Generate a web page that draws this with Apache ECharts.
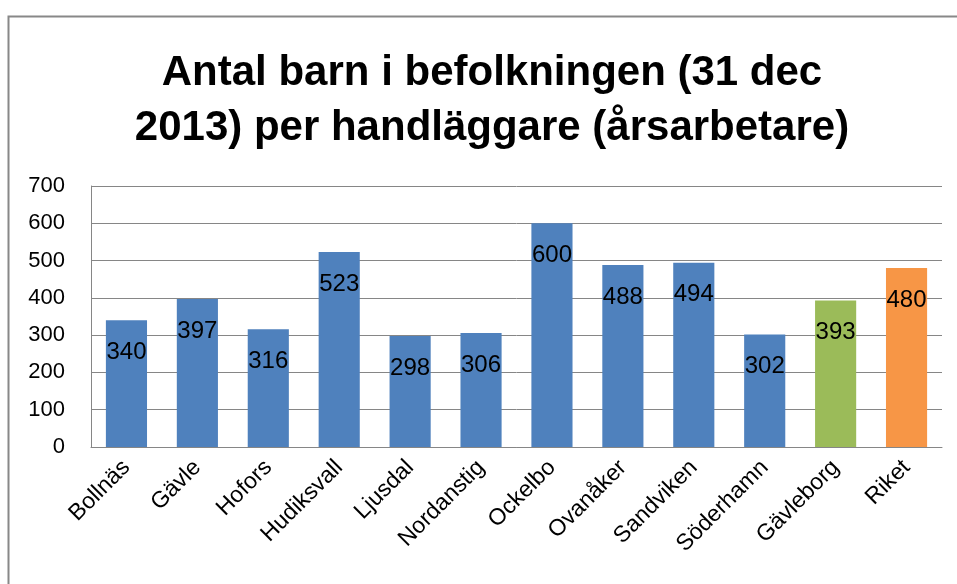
<!DOCTYPE html>
<html>
<head>
<meta charset="utf-8">
<script src="https://cdn.jsdelivr.net/npm/echarts@6/dist/echarts.min.js"></script>
<style>
html,body{margin:0;padding:0;background:#fff;}
#chart{width:957px;height:584px;}
</style>
</head>
<body>
<div id="chart"></div>
<script>
const categories = ['Bollnäs','Gävle','Hofors','Hudiksvall','Ljusdal','Nordanstig','Ockelbo','Ovanåker','Sandviken','Söderhamn','Gävleborg','Riket'];
const values = [340, 397, 316, 523, 298, 306, 600, 488, 494, 302, 393, 480];
const barColors = ['#4F81BD','#4F81BD','#4F81BD','#4F81BD','#4F81BD','#4F81BD','#4F81BD','#4F81BD','#4F81BD','#4F81BD','#9BBB59','#F79646'];
const yTicks = [0, 100, 200, 300, 400, 500, 600, 700];
const titleText = 'Antal barn i befolkningen (31 dec\n2013) per handläggare (årsarbetare)';

const FONT = '"Liberation Sans", Arial, sans-serif';
const chart = echarts.init(document.getElementById('chart'), null, {renderer: 'canvas'});
chart.setOption({
  backgroundColor: '#fff',
  animation: false,
  textStyle: {fontFamily: FONT},
  graphic: [{
    type: 'rect', left: 6, top: 14, silent: true,
    shape: {width: 1000, height: 1000},
    style: {fill: 'none', stroke: '#888', lineWidth: 2}
  }],
  title: {
    text: titleText,
    left: 487, top: 41, textAlign: 'center',
    textStyle: {fontFamily: FONT, fontWeight: 'bold', fontSize: 42, lineHeight: 55, color: '#000'}
  },
  grid: {left: 91, right: 15, top: 186, bottom: 137, containLabel: false},
  xAxis: {
    type: 'category', data: categories,
    axisLine: {show: true, lineStyle: {color: '#868686', width: 1}},
    axisTick: {show: false},
    axisLabel: {rotate: 45, interval: 0, fontSize: 23, color: '#000', margin: 17, fontFamily: FONT}
  },
  yAxis: {
    type: 'value', min: yTicks[0], max: yTicks[yTicks.length - 1], interval: 100,
    axisLine: {show: true, lineStyle: {color: '#868686', width: 1}},
    axisTick: {show: false},
    axisLabel: {fontSize: 22, color: '#000', margin: 26, fontFamily: FONT},
    splitLine: {show: true, lineStyle: {color: '#868686', width: 1}}
  },
  series: [{
    type: 'bar',
    data: values.map((v, i) => ({value: v, itemStyle: {color: barColors[i]}})),
    barWidth: '58%',
    label: {show: true, position: 'insideTop', distance: 20, fontSize: 24, color: '#000', fontFamily: FONT}
  }]
});
</script>
</body>
</html>
